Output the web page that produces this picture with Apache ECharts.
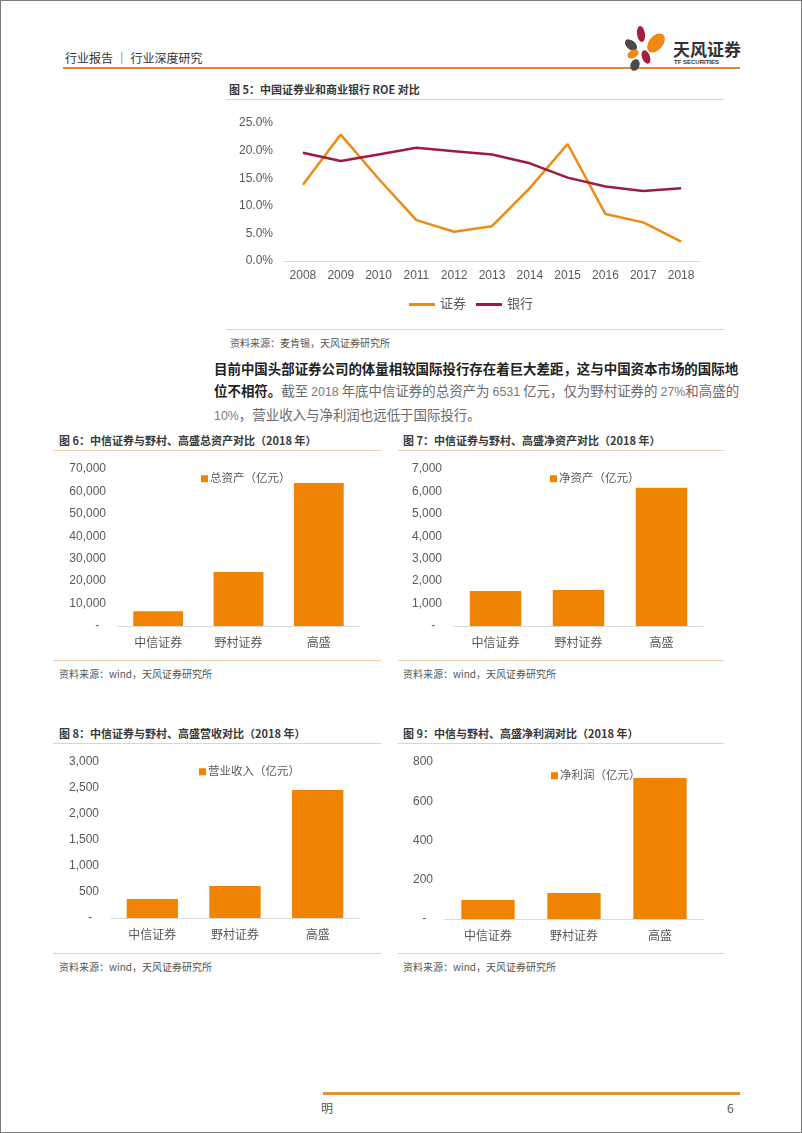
<!DOCTYPE html>
<html>
<head>
<meta charset="utf-8">
<script src="https://cdn.jsdelivr.net/npm/echarts@6/dist/echarts.min.js"></script>
<style>
  body { margin: 0; background: #fff; font-family: "Noto Sans CJK SC", "Liberation Sans", sans-serif; }
  #page { position: relative; width: 802px; height: 1133px; box-sizing: border-box; border: 1px solid #7a7a7a; overflow: hidden; }
  .abs { position: absolute; white-space: nowrap; }
  .rule { position: absolute; height: 1px; background: #f3cfae; }
  .ftitle { font-size: 11px; font-weight: bold; color: #3a3a3a; }
  .src { font-size: 10px; color: #555; }
  .chart { position: absolute; }
  .num { font-size: 12.4px; font-family: "Liberation Sans", sans-serif; color: #7a7a7a; }
</style>
</head>
<body>
<div id="page">
  <!-- header -->
  <div class="abs" style="left:64px;top:48px;font-size:12px;color:#333;">行业报告 ｜ 行业深度研究</div>
  <div class="abs" style="left:62px;top:66px;width:677px;height:2px;background:#e2882e;"></div>
  <svg class="abs" style="left:620px;top:22px;" width="56" height="50">
    <ellipse cx="20" cy="11" rx="4" ry="8" fill="#a3203d" transform="rotate(-8 20 11)"/>
    <ellipse cx="35" cy="20" rx="7" ry="11" fill="#ee8a12" transform="rotate(40 35 20)"/>
    <ellipse cx="10" cy="22" rx="4.5" ry="7" fill="#4a4a4a" transform="rotate(-50 10 22)"/>
    <ellipse cx="12" cy="31" rx="4" ry="6" fill="#ee8a12" transform="rotate(60 12 31)"/>
    <ellipse cx="25" cy="34" rx="4" ry="7" fill="#a3203d" transform="rotate(-20 25 34)"/>
    <ellipse cx="14" cy="42" rx="4.5" ry="6" fill="#4a4a4a" transform="rotate(20 14 42)"/>
  </svg>
  <div class="abs" style="left:672px;top:35px;font-size:17px;font-weight:bold;color:#333;">天风证券</div>
  <div class="abs" style="left:673px;top:58px;font-size:6px;font-weight:bold;color:#333;font-family:'Liberation Sans',sans-serif;">TF SECURITIES</div>

  <!-- figure 5 -->
  <div class="abs ftitle" style="left:228px;top:80px;">图 5：中国证券业和商业银行 ROE 对比</div>
  <div class="rule" style="left:225px;top:98px;width:498px;"></div>
  <div id="chart5" class="chart" style="left:220px;top:105px;width:500px;height:220px;"></div>
  <div class="rule" style="left:225px;top:328px;width:498px;"></div>
  <div class="abs src" style="left:229px;top:334px;">资料来源：麦肯锡，天风证券研究所</div>

  <!-- paragraph -->
  <div class="abs" style="left:213px;top:356px;font-size:13.45px;line-height:22px;color:#6b6b6b;">
    <span style="font-weight:bold;color:#222;">目前中国头部证券公司的体量相较国际投行存在着巨大差距，这与中国资本市场的国际地</span><br>
    <span style="font-weight:bold;color:#222;">位不相符。</span>截至 <span class="num">2018</span> 年底中信证券的总资产为 <span class="num">6531</span> 亿元，仅为野村证券的 <span class="num">27%</span>和高盛的<br>
    <span class="num">10%</span>，营业收入与净利润也远低于国际投行。
  </div>

  <!-- figure 6 / 7 -->
  <div class="abs ftitle" style="left:58px;top:431px;">图 6：中信证券与野村、高盛总资产对比（2018 年）</div>
  <div class="rule" style="left:52px;top:449px;width:328px;"></div>
  <div id="chart6" class="chart" style="left:52px;top:455px;width:330px;height:200px;"></div>
  <div class="rule" style="left:52px;top:659px;width:328px;"></div>
  <div class="abs src" style="left:58px;top:665px;">资料来源：wind，天风证券研究所</div>

  <div class="abs ftitle" style="left:402px;top:431px;">图 7：中信证券与野村、高盛净资产对比（2018 年）</div>
  <div class="rule" style="left:397px;top:449px;width:326px;"></div>
  <div id="chart7" class="chart" style="left:397px;top:455px;width:330px;height:200px;"></div>
  <div class="rule" style="left:397px;top:659px;width:326px;"></div>
  <div class="abs src" style="left:402px;top:665px;">资料来源：wind，天风证券研究所</div>

  <!-- figure 8 / 9 -->
  <div class="abs ftitle" style="left:58px;top:724px;">图 8：中信证券与野村、高盛营收对比（2018 年）</div>
  <div class="rule" style="left:52px;top:742px;width:328px;"></div>
  <div id="chart8" class="chart" style="left:52px;top:750px;width:330px;height:195px;"></div>
  <div class="rule" style="left:52px;top:952px;width:328px;"></div>
  <div class="abs src" style="left:58px;top:958px;">资料来源：wind，天风证券研究所</div>

  <div class="abs ftitle" style="left:402px;top:724px;">图 9：中信与野村、高盛净利润对比（2018 年）</div>
  <div class="rule" style="left:397px;top:742px;width:326px;"></div>
  <div id="chart9" class="chart" style="left:397px;top:750px;width:330px;height:195px;"></div>
  <div class="rule" style="left:397px;top:952px;width:326px;"></div>
  <div class="abs src" style="left:402px;top:958px;">资料来源：wind，天风证券研究所</div>

  <!-- footer -->
  <div class="abs" style="left:322px;top:1091px;width:417px;height:3px;background:#e2922e;"></div>
  <div class="abs" style="left:320px;top:1098px;font-size:12px;color:#555;">明</div>
  <div class="abs" style="left:726px;top:1098px;font-size:12px;color:#555;">6</div>
</div>

<script>
// 图5 ROE (%)
var years = ['2008', '2009', '2010', '2011', '2012', '2013', '2014', '2015', '2016', '2017', '2018'];
var roeSecurities = [13.8, 22.9, 14.9, 7.4, 5.3, 6.3, 13.2, 21.2, 8.5, 7.0, 3.5];
var roeBanks = [19.6, 18.1, 19.3, 20.5, 19.9, 19.3, 17.7, 15.1, 13.5, 12.7, 13.2];

// 图6-9 (亿元)
var firms = ['中信证券', '野村证券', '高盛'];
var totalAssets = [6531, 24100, 63800];
var netAssets = [1560, 1600, 6160];
var revenue = [365, 615, 2460];
var netProfit = [97, 132, 718];

var orange = '#F08300';
var darkRed = '#9E1B3E';
var labelColor = '#595959';
var font = '"Liberation Sans", "Noto Sans CJK SC", sans-serif';

function makeLine(){
    var chart = echarts.init(document.getElementById('chart5'));
    chart.setOption({
        animation: false,
        grid: { left: 63, top: 17, width: 416, height: 138 },
        legend: {
            top: 187, left: 'center', itemWidth: 26, itemHeight: 3, itemGap: 10,
            textStyle: { fontSize: 13, color: labelColor, fontFamily: font },
            data: [{ name: '证券', icon: 'rect' }, { name: '银行', icon: 'rect' }]
        },
        xAxis: {
            type: 'category', data: years, boundaryGap: true,
            axisLine: { lineStyle: { color: '#d9d9d9' } },
            axisTick: { show: false },
            axisLabel: { color: labelColor, fontSize: 12, margin: 9, fontFamily: font }
        },
        yAxis: {
            type: 'value', min: 0, max: 25, interval: 5,
            splitLine: { show: false },
            axisLabel: { color: labelColor, fontSize: 12, margin: 11, fontFamily: font,
                formatter: function(v){ return v.toFixed(1) + '%'; } }
        },
        series: [
            { name: '证券', type: 'line', data: roeSecurities, symbol: 'none',
              itemStyle: { color: '#ED8B16' }, lineStyle: { width: 2.5, color: '#ED8B16' } },
            { name: '银行', type: 'line', data: roeBanks, symbol: 'none',
              itemStyle: { color: darkRed }, lineStyle: { width: 2.5, color: darkRed } }
        ]
    });
}

function makeBar(id, name, values, max, interval, grid, legendPos){
    var chart = echarts.init(document.getElementById(id));
    chart.setOption({
        animation: false,
        grid: grid,
        legend: {
            left: legendPos[0], top: legendPos[1], icon: 'rect', itemWidth: 7, itemHeight: 7, itemGap: 2,
            textStyle: { fontSize: 11.5, color: labelColor, fontFamily: font, padding: [0, 0, 0, -3] },
            data: [name]
        },
        xAxis: {
            type: 'category', data: firms,
            axisLine: { lineStyle: { color: '#d9d9d9' } },
            axisTick: { show: false },
            axisLabel: { color: labelColor, fontSize: 12, margin: 12, fontFamily: font }
        },
        yAxis: {
            type: 'value', min: 0, max: max, interval: interval,
            splitLine: { show: false },
            axisLabel: { color: labelColor, fontSize: 12, margin: 12, fontFamily: font,
                formatter: function(v){ return v === 0 ? '-  ' : v.toLocaleString('en-US'); } }
        },
        series: [{ name: name, type: 'bar', data: values, barWidth: '62%', itemStyle: { color: orange } }]
    });
}

makeLine();
makeBar('chart6', '总资产（亿元）', totalAssets, 70000, 10000, { left: 65, top: 13, width: 241, height: 157 }, [143, 12]);
makeBar('chart7', '净资产（亿元）', netAssets, 7000, 1000, { left: 56, top: 13, width: 249, height: 157 }, [147, 12]);
makeBar('chart8', '营业收入（亿元）', revenue, 3000, 500, { left: 58, top: 11, width: 248, height: 156 }, [141, 10]);
makeBar('chart9', '净利润（亿元）', netProfit, 800, 200, { left: 47, top: 11, width: 258, height: 157 }, [148, 14]);
</script>
</body>
</html>
